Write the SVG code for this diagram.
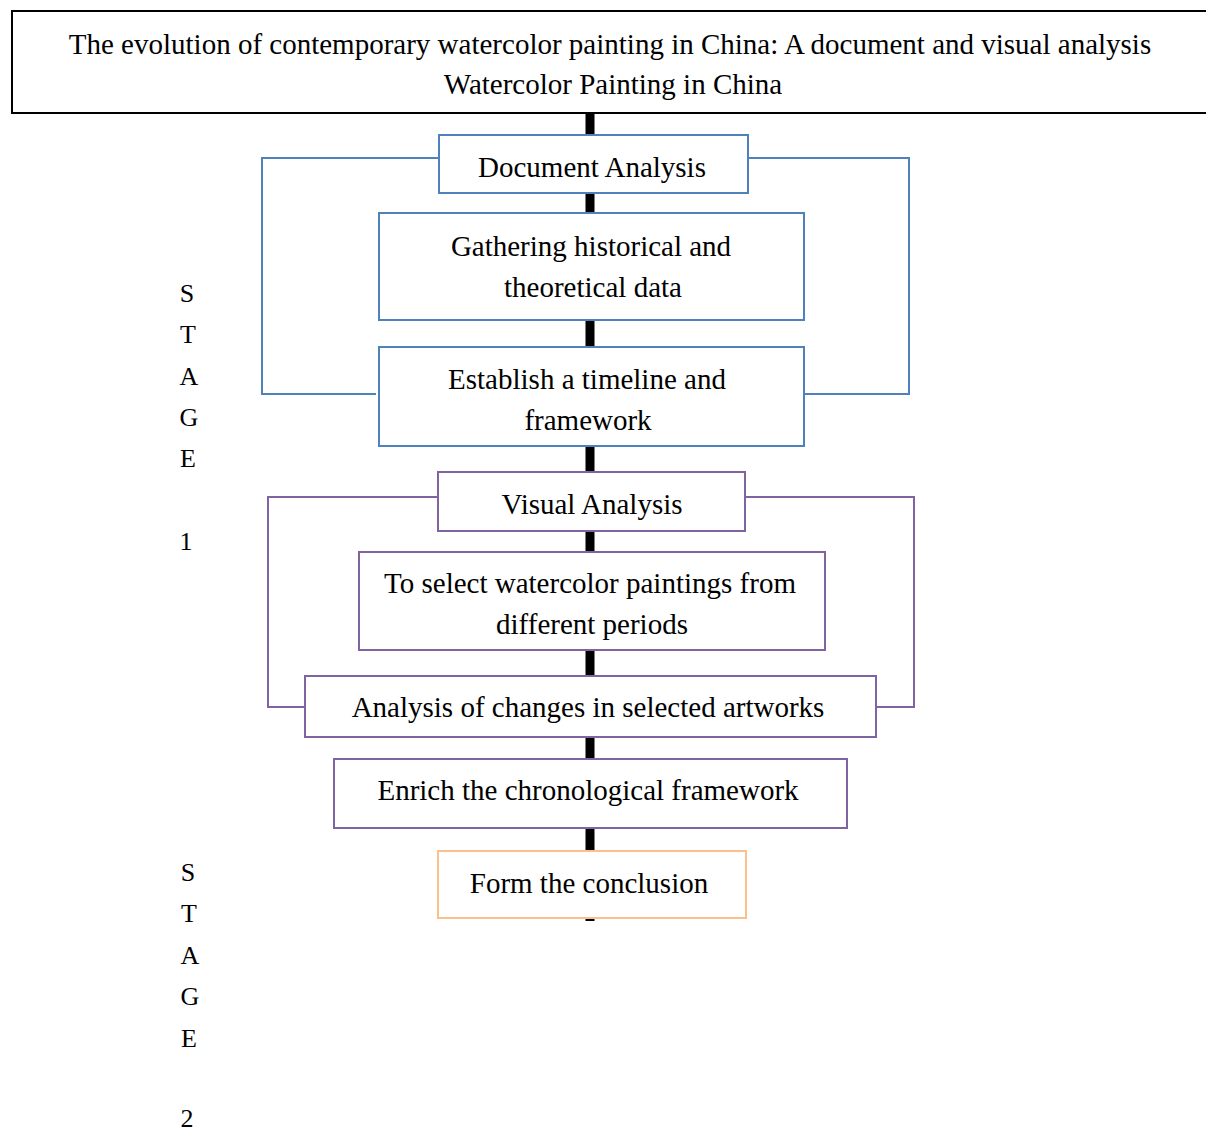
<svg xmlns="http://www.w3.org/2000/svg" width="1206" height="1131" viewBox="0 0 1206 1131">
<style>
text{font-family:"Liberation Serif","Times New Roman",serif;font-size:29px;fill:#000;text-anchor:middle}
.stage{font-size:26px}
.box{fill:#fff;stroke-width:2}
.blue{stroke:#4F81BD}
.purple{stroke:#8064A2}
.orange{stroke:#FAC08F}
.br{fill:none;stroke-width:2}
</style>
<rect width="1206" height="1131" fill="#fff"/>
<g id="connectors">
<line x1="590" y1="112" x2="590" y2="921" stroke="#000" stroke-width="9"/>
<polyline class="br blue" points="439,158 262,158 262,394 376,394"/>
<polyline class="br blue" points="748,158 909,158 909,394 804,394"/>
<polyline class="br purple" points="445,497 268,497 268,707 305,707"/>
<polyline class="br purple" points="740,497 914,497 914,707 876,707"/>
</g>
<g id="title">
<rect x="12" y="11" width="1200" height="102" fill="#fff" stroke="#000" stroke-width="2"/>
<text x="610" y="54" font-size="28.1">The evolution of contemporary watercolor painting in China: A document and visual analysis</text>
<text x="613" y="94" font-size="28.1">Watercolor Painting in China</text>
</g>
<g id="doc-analysis">
<rect class="box blue" x="439" y="135" width="309" height="58"/>
<text x="592" y="177">Document Analysis</text>
</g>
<g id="gathering">
<rect class="box blue" x="379" y="213" width="425" height="107"/>
<text x="591" y="256">Gathering historical and</text>
<text x="593" y="297">theoretical data</text>
</g>
<g id="establish">
<rect class="box blue" x="379" y="347" width="425" height="99"/>
<text x="587" y="389">Establish a timeline and</text>
<text x="588" y="430">framework</text>
</g>
<g id="visual-analysis">
<rect class="box purple" x="438" y="472" width="307" height="59"/>
<text x="592" y="514">Visual Analysis</text>
</g>
<g id="select">
<rect class="box purple" x="359" y="552" width="466" height="98"/>
<text x="590" y="593">To select watercolor paintings from</text>
<text x="592" y="634">different periods</text>
</g>
<g id="changes">
<rect class="box purple" x="305" y="676" width="571" height="61"/>
<text x="588" y="717">Analysis of changes in selected artworks</text>
</g>
<g id="enrich">
<rect class="box purple" x="334" y="759" width="513" height="69"/>
<text x="588" y="800">Enrich the chronological framework</text>
</g>
<g id="conclusion">
<rect class="box orange" x="438" y="851" width="308" height="67"/>
<text x="589" y="893">Form the conclusion</text>
</g>
<g id="stage1">
<text class="stage" x="187" y="302">S</text>
<text class="stage" x="188" y="343">T</text>
<text class="stage" x="189" y="385">A</text>
<text class="stage" x="189" y="426">G</text>
<text class="stage" x="188" y="467">E</text>
<text class="stage" x="186" y="550">1</text>
</g>
<g id="stage2">
<text class="stage" x="188" y="881">S</text>
<text class="stage" x="189" y="922">T</text>
<text class="stage" x="190" y="964">A</text>
<text class="stage" x="190" y="1005">G</text>
<text class="stage" x="189" y="1047">E</text>
<text class="stage" x="187" y="1127">2</text>
</g>
</svg>
